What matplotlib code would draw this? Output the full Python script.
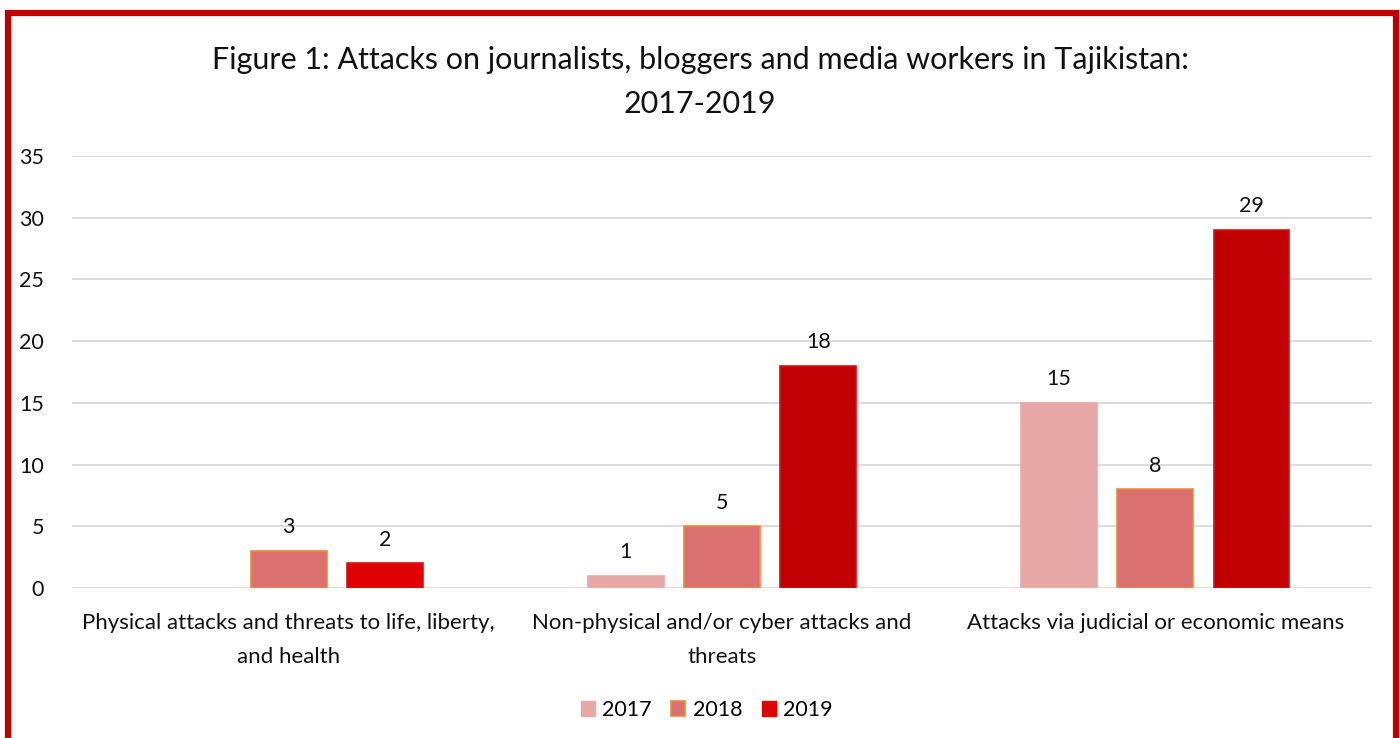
import matplotlib.pyplot as plt
from matplotlib.patches import Rectangle
import numpy as np

categories = [
    "Physical attacks and threats to life, liberty,\nand health",
    "Non-physical and/or cyber attacks and\nthreats",
    "Attacks via judicial or economic means",
]
years = ["2017", "2018", "2019"]
values_2017 = [0, 1, 15]
values_2018 = [3, 5, 8]
values_2019 = [2, 18, 29]
y_ticks = [0, 5, 10, 15, 20, 25, 30, 35]

plt.rcParams['font.family'] = ['Lato', 'DejaVu Sans']

W, H = 1400, 738
fig = plt.figure(figsize=(W / 100, H / 100), dpi=100)
ax = fig.add_axes([72 / W, 1 - 588 / H, (1372 - 72) / W, (588 - 156) / H])

x = np.arange(len(categories))
bw = 0.175
step = 0.222

face_2017 = "#E8A8A8"
face_2018 = "#DB7070"
face_2019 = ["#E00000", "#C00000", "#C00000"]

series = [
    (values_2017, face_2017, "#E8A8A8", -step),
    (values_2018, face_2018, "#F0883A", 0.0),
    (values_2019, face_2019, "#D81010", step),
]

for vals, fc, ec, off in series:
    for i, v in enumerate(vals):
        if v == 0:
            continue
        c = fc[i] if isinstance(fc, list) else fc
        ax.bar(x[i] + off, v, width=bw, color=c, edgecolor=ec, linewidth=1.2, zorder=3)
        ax.text(x[i] + off, v + 1.1, str(v), ha="center", va="bottom",
                fontsize=15.5, color="#111111")

ax.set_xlim(-0.5, 2.5)
ax.set_ylim(0, 35)
ax.set_yticks(y_ticks)
ax.set_yticklabels([str(t) for t in y_ticks], fontsize=15.5, color="#111111")
ax.yaxis.grid(True, color="#D9D9D9", linewidth=1.3, zorder=0)
ax.set_axisbelow(True)
ax.tick_params(axis="y", length=0, pad=20)
ax.tick_params(axis="x", length=0, pad=18)
ax.set_xticks(x)
ax.set_xticklabels(categories, fontsize=16, color="#111111", linespacing=1.85)
for s in ax.spines.values():
    s.set_visible(False)

fig.text(0.5, 1 - 60 / H, "Figure 1: Attacks on journalists, bloggers and media workers in Tajikistan:",
         ha="center", va="center", fontsize=22, color="#111111")
fig.text(0.5, 1 - 104 / H, "2017-2019", ha="center", va="center", fontsize=22, color="#111111")

# Legend
handles = [
    Rectangle((0, 0), 1, 1, facecolor=face_2017, edgecolor=face_2017),
    Rectangle((0, 0), 1, 1, facecolor=face_2018, edgecolor="#F0883A", linewidth=1.2),
    Rectangle((0, 0), 1, 1, facecolor="#E00000", edgecolor="#E00000"),
]
fig.legend(handles, years, loc="center", bbox_to_anchor=(707 / W, 1 - 710 / H),
           ncol=3, frameon=False, fontsize=15.5, handlelength=0.65, handleheight=0.65,
           handletextpad=0.35, columnspacing=0.9)

# Red frame around the figure
fig.add_artist(Rectangle((7.5 / W, -0.05), (1396 - 7.5) / W, 1.05 - 13 / H,
                         transform=fig.transFigure, fill=False,
                         edgecolor="#C00000", linewidth=4.5))

fig.savefig("out.png", dpi=100, facecolor="white")
